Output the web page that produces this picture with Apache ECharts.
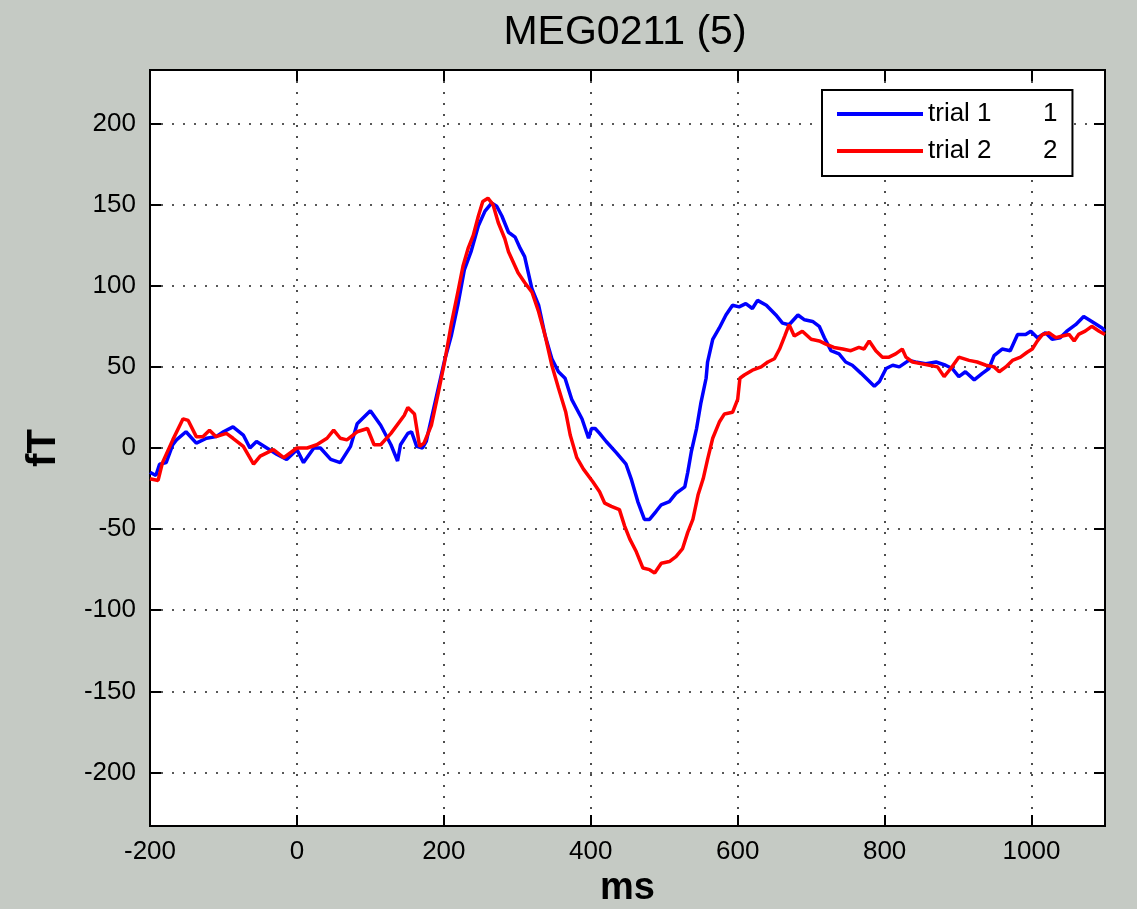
<!DOCTYPE html>
<html>
<head>
<meta charset="utf-8">
<script src="https://cdn.jsdelivr.net/npm/echarts@6/dist/echarts.min.js"></script>
<style>
html,body{margin:0;padding:0;background:#c5cac4;}
#chart{width:1137px;height:909px;}
</style>
</head>
<body>
<div id="chart"></div>
<script>
// ---- data ----
const titleText = 'MEG0211 (5)';
const xName = 'ms';
const yName = 'fT';
const seriesNames = ['trial 1', 'trial 2'];
const legendNums = ['1', '2'];

// trial 1 (blue): time (ms) and field (fT)
const t1 = [-200,-192,-187,-178,-169,-164,-151,-137,-123,-110,-100,-87,-73,-64,-55,-41,-27,-14,0,9,23,32,46,59,73,82,100,114,128,137,141,151,156,163,171,176,183,192,201,210,219,228,237,247,256,265,272,279,288,297,304,310,315,320,329,338,347,356,365,374,388,397,401,406,412,421,435,448,455,464,473,480,489,496,507,516,528,532,537,544,550,557,559,566,575,584,593,602,611,620,627,639,652,661,670,682,691,702,711,718,727,738,747,756,768,777,786,793,802,811,820,833,842,856,870,883,892,901,910,922,933,942,949,960,971,981,992,999,1008,1019,1028,1039,1048,1060,1071,1082,1096,1100];
const v1 = [-15,-17,-10,-9,2,5,10,3,6,7,10,13,8,0,4,0,-4,-7,-1,-9,0,0,-7,-9,1,15,23,14,2,-8,2,9,10,1,0,4,18,36,54,69,88,110,121,137,146,151,149,143,133,130,123,118,108,98,88,69,55,47,43,30,18,6,12,12,9,4,-3,-10,-19,-33,-44,-44,-39,-35,-33,-28,-24,-15,-2,12,28,43,53,67,74,82,88,87,89,86,91,88,82,77,76,82,79,78,75,68,60,58,53,51,46,42,38,41,49,51,50,54,53,52,53,51,49,44,47,42,46,49,57,61,60,70,70,72,68,71,67,68,72,76,81,78,74,72];

// trial 2 (red)
const t2 = [-200,-189,-183,-169,-155,-148,-137,-128,-119,-110,-96,-87,-73,-59,-50,-32,-18,0,14,27,41,50,59,68,82,96,105,114,128,146,151,160,167,173,183,192,201,210,219,226,233,240,247,253,260,267,274,283,288,301,310,320,329,338,347,356,366,372,381,390,403,412,419,428,439,446,453,462,471,480,487,496,507,516,525,532,539,546,553,559,566,575,582,593,600,603,609,620,632,641,650,657,664,670,677,688,700,711,720,731,743,754,765,772,779,788,797,806,815,824,829,838,849,861,872,881,890,901,915,926,938,949,956,965,974,985,994,1001,1008,1015,1024,1033,1042,1051,1058,1064,1073,1082,1092,1100];
const v2 = [-19,-20,-9,5,18,17,7,7,11,7,9,6,1,-10,-5,-1,-6,0,0,2,6,11,6,5,10,12,2,2,9,20,25,21,1,3,14,33,53,76,96,112,123,131,143,152,154,150,139,129,121,108,102,96,84,69,51,37,22,8,-6,-13,-21,-27,-34,-36,-38,-48,-56,-64,-74,-75,-77,-71,-70,-67,-62,-52,-44,-29,-19,-7,6,16,21,22,30,43,45,48,50,53,55,61,69,76,69,72,67,66,64,62,61,60,62,61,66,60,56,56,58,61,56,53,52,51,50,44,49,56,54,53,51,50,47,50,54,56,59,61,66,70,71,68,69,70,66,70,72,75,72,70];

const seriesColors = ['#0000ff', '#ff0000'];

// ---- chart ----
const chart = echarts.init(document.getElementById('chart'), null, {renderer: 'canvas'});
const FONT = 'Liberation Sans, Helvetica, Arial, sans-serif';
const pairs = (t, v) => t.map((x, i) => [x, v[i]]);

const gridLine = {show: true, lineStyle: {color: '#222', width: 1.6, type: [2, 9]}};
const tickStyle = {show: true, inside: true, length: 11, lineStyle: {color: '#000', width: 2}};

chart.setOption({
  backgroundColor: '#c5cac4',
  animation: false,
  title: {
    text: titleText, left: 625, top: 12, textAlign: 'center', padding: 0,
    textStyle: {fontFamily: FONT, fontSize: 41, fontWeight: 'normal', color: '#000'}
  },
  grid: {
    left: 150, top: 70, width: 955, height: 756, containLabel: false, outerBoundsMode: 'none',
    show: true, backgroundColor: '#ffffff', borderColor: '#000', borderWidth: 2
  },
  legend: {
    data: seriesNames.map((n, i) => ({name: n, icon: 'rect', itemStyle: {color: seriesColors[i]}})),
    orient: 'vertical', left: 822, top: 90,
    padding: [11, 15, 12, 15], itemGap: 11, itemWidth: 86, itemHeight: 4,
    backgroundColor: '#fff', borderColor: '#000', borderWidth: 2, borderRadius: 0,
    formatter: name => `{n|${name}}{k|${legendNums[seriesNames.indexOf(name)]}}`,
    textStyle: {
      fontFamily: FONT, fontSize: 26, color: '#000', lineHeight: 26,
      rich: {n: {width: 115, fontFamily: FONT, fontSize: 26, lineHeight: 26}, k: {width: 14, fontFamily: FONT, fontSize: 26, lineHeight: 26}}
    }
  },
  xAxis: [{
    type: 'value', min: -200, max: 1100, interval: 200, position: 'bottom',
    name: xName, nameLocation: 'middle', nameGap: 40,
    nameTextStyle: {fontFamily: FONT, fontSize: 38, fontWeight: 'bold', color: '#000'},
    axisLine: {show: true, onZero: false, lineStyle: {color: '#000', width: 2}},
    axisTick: tickStyle,
    axisLabel: {fontFamily: FONT, fontSize: 26, color: '#000', margin: 13, showMaxLabel: false, formatter: v => String(v)},
    splitLine: gridLine
  }, {
    type: 'value', min: -200, max: 1100, interval: 200, position: 'top',
    axisLine: {show: true, onZero: false, lineStyle: {color: '#000', width: 2}},
    axisTick: tickStyle, axisLabel: {show: false}, splitLine: {show: false}
  }],
  yAxis: [{
    type: 'value', min: -233, max: 233, splitNumber: 9, position: 'left',
    name: yName, nameLocation: 'middle', nameGap: 86, nameRotate: 90,
    nameTextStyle: {fontFamily: FONT, fontSize: 40, fontWeight: 'bold', color: '#000'},
    axisLine: {show: true, onZero: false, lineStyle: {color: '#000', width: 2}},
    axisTick: tickStyle,
    axisLabel: {fontFamily: FONT, fontSize: 26, color: '#000', margin: 14, showMinLabel: false, showMaxLabel: false, formatter: v => String(v)},
    splitLine: gridLine
  }, {
    type: 'value', min: -233, max: 233, splitNumber: 9, position: 'right',
    axisLine: {show: true, onZero: false, lineStyle: {color: '#000', width: 2}},
    axisTick: tickStyle, axisLabel: {show: false}, splitLine: {show: false}
  }],
  series: [
    {name: seriesNames[0], type: 'line', data: pairs(t1, v1), showSymbol: false, symbol: 'none',
     lineStyle: {color: seriesColors[0], width: 3.5}, itemStyle: {color: seriesColors[0]}, z: 3},
    {name: seriesNames[1], type: 'line', data: pairs(t2, v2), showSymbol: false, symbol: 'none',
     lineStyle: {color: seriesColors[1], width: 3.5}, itemStyle: {color: seriesColors[1]}, z: 4}
  ]
});
</script>
</body>
</html>
